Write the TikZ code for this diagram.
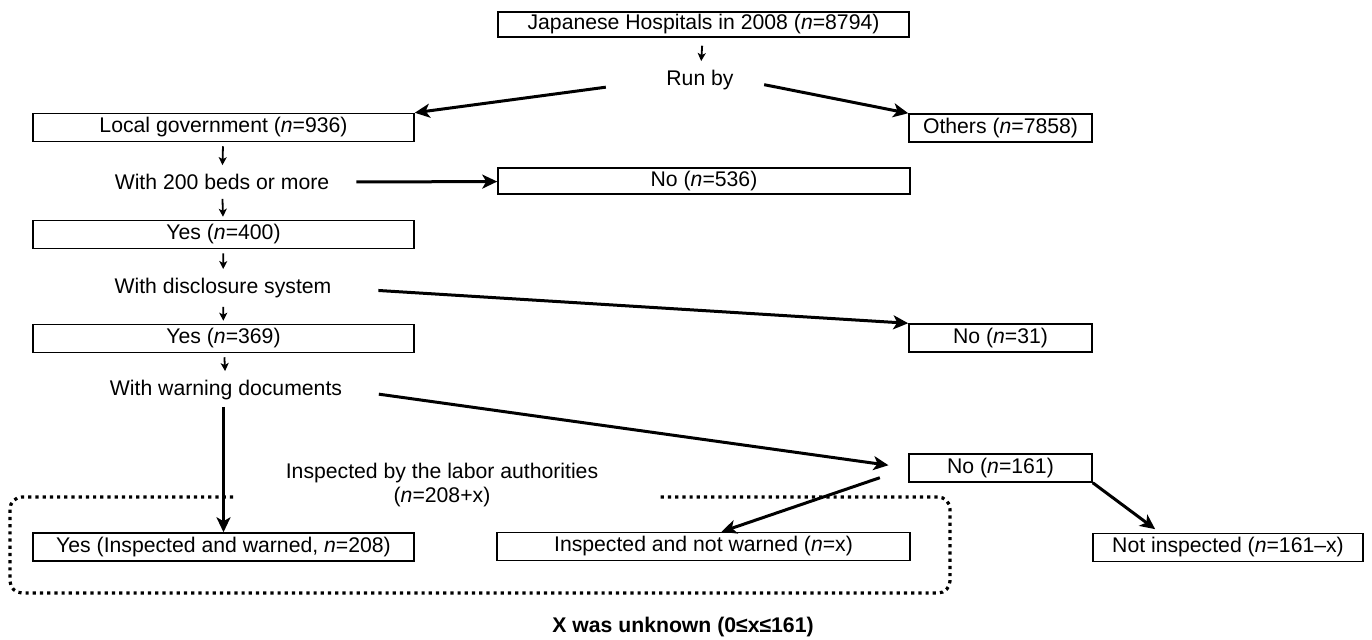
\documentclass[tikz,border=0pt]{standalone}
\usepackage{fontspec}
\setmainfont{Liberation Sans}
\usetikzlibrary{arrows.meta}
\def\N{\textit{n}}

\begin{document}
\begin{tikzpicture}[x=0.5pt,y=-0.5pt,% one unit is one pixel of the original figure
			every node/.style={
				align=center,	% so that "\\" breaks lines
				font=\fontsize{10.6}{12}\selectfont
			},
			box/.style={rectangle,draw=black,line width=0.75pt,inner sep=0pt,minimum height=14pt},
			every edge/.style={draw,line width=1.5pt},
			big/.style={-{Stealth[length=7.5pt,width=7pt,inset=2pt]}},
			small/.style={line width=0.9pt,-{Stealth[length=4pt,width=4pt,inset=1pt]}}
		]
		\useasboundingbox (0,0) rectangle (1372,639);
		% boxes and questions
		\node[box,minimum width=205.5pt,minimum height=12.5pt](top) at (703.5,24.5){Japanese Hospitals in 2008 (\N=8794)};
		\node(runby) at (700,80){Run by};
		\node[box,minimum width=190.5pt](local) at (223.5,127.5){Local government (\N=936)};
		\node[box,minimum width=91.5pt](others) at (1000.5,128){Others (\N=7858)};
		\node(beds) at (222,182){With 200 beds or more};
		\node[box,minimum width=206pt,minimum height=13pt](no536) at (704,181){No (\N=536)};
		\node[box,minimum width=190.5pt](yes400) at (223.5,234.5){Yes (\N=400)};
		\node(discl) at (223,288){With disclosure system};
		\node[box,minimum width=190.5pt](yes369) at (223.5,338.5){Yes (\N=369)};
		\node[box,minimum width=91.5pt](no31) at (1000.5,338){No (\N=31)};
		\node(warn) at (226,390){With warning documents};
		\node[box,minimum width=91.5pt](no161) at (1000.5,468){No (\N=161)};
		\node[box,minimum width=190.5pt](yes208) at (223.5,547){Yes (Inspected and warned, \N=208)};
		\node[box,minimum width=206.5pt](notwarned) at (703.5,546.5){Inspected and not warned (\N=x)};
		\node[box,minimum width=135pt](notinsp) at (1228,547.5){Not inspected (\N=161--x)};
		% dotted group with its label
		\draw[line width=1.6pt,dotted,rounded corners=6pt] (233,497) -- (10,497) -- (10,593) -- (950,593) -- (950,497) -- (657,497);
		\node[fill=white,inner sep=1pt](labor) at (442,485){Inspected by the labor authorities\\(\N=208+x)};
		\node[font=\fontsize{10.6}{12}\selectfont\bfseries](unknown) at (683,627){X was unknown (0≤x≤161)};
		\path
		(top)edge [small,line width=0.9pt,shorten <=4pt,shorten >=1pt] (runby)
		(runby.west)edge [big,shorten <=27pt] (local.north east)
		(runby.east)edge [big,shorten <=12pt] (others.north west)
		(local)edge [small,line width=0.9pt,shorten <=2pt,shorten >=1pt] (beds)
		(beds.east)edge [big,shorten <=10pt] (no536)
		(beds)edge [small,line width=0.9pt,shorten <=1pt,shorten >=1.5pt] (yes400)
		(yes400)edge [small,line width=0.9pt,shorten <=2pt,shorten >=1pt] (discl)
		(discl.east)edge [big,shorten <=20pt] (no31.north west)
		(discl)edge [small,line width=0.9pt,shorten <=1pt,shorten >=1.5pt] (yes369)
		(yes369)edge [small,line width=0.9pt,shorten <=2pt,shorten >=1pt] (warn)
		(warn.east)edge [big,shorten <=15pt,shorten >=10pt] (no161.west)
		(warn.south -| yes208.north)edge [big] (yes208.north)
		(no161.west)edge [big,shorten <=15pt] ([xshift=9pt]notwarned.north)
		(no161.south east)edge [big,shorten >=3pt] ([xshift=-34pt]notinsp.north)
		;
	\end{tikzpicture}
\end{document}
